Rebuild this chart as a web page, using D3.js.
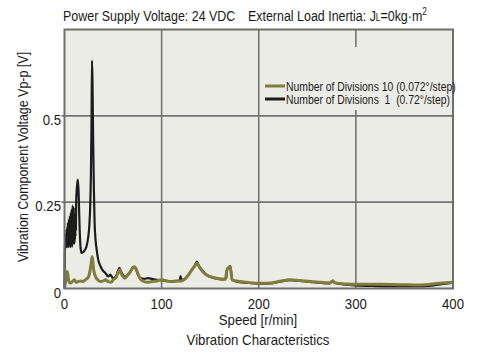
<!DOCTYPE html>
<html>
<head>
<meta charset="utf-8">
<script src="https://cdn.jsdelivr.net/npm/d3@7"></script>
<style>
  body { margin: 0; background: #fff; }
  text { font-family: "Liberation Sans", Arial, sans-serif; fill: #1a1a1a; }
</style>
</head>
<body>
<div id="chart"></div>
<script>
// speed [r/min] and voltage [V]
var speed1 = [0,0.25,0.5,0.75,1,1.25,1.5,1.75,2,2.25,2.5,2.75,3,3.25,3.5,3.75,4,4.25,4.5,4.75,5,5.25,5.5,5.75,6,6.25,6.5,6.75,7,7.25,7.5,7.75,8,8.25,8.5,8.75,9,9.25,9.5,9.75,10,10.25,10.5,10.75,11,11.25,11.5,11.75,12,13,13.8,14.5,15.5,16.5,17.5,19,20.5,22.5,24.5,25.5,26.5,27.2,27.8,28.3,28.8,29.5,30.3,31,32,33,35,37,39,42,45,47,50,53,55,56.5,58,60,62,65,68,71,73,75,78,82,86,90,95,100,105,110,115,118.5,119.5,120.5,125,130,134,136.4,138,142,146,152,158,164,166.5,167.5,169,170.7,171.5,172.5,180,190,200,212,222,232,242,253,265,273,275,276.5,278,290,300,320,340,366,380,390,400];
var volt1 = [0,0.1,0.14,0.12,0.15,0.12,0.16,0.12,0.17,0.13,0.16,0.12,0.18,0.13,0.19,0.12,0.18,0.14,0.2,0.12,0.19,0.13,0.21,0.14,0.2,0.12,0.22,0.13,0.2,0.14,0.23,0.12,0.21,0.13,0.24,0.14,0.22,0.13,0.235,0.15,0.22,0.13,0.2,0.14,0.21,0.15,0.22,0.17,0.25,0.3,0.315,0.28,0.18,0.12,0.103,0.105,0.11,0.12,0.15,0.18,0.24,0.33,0.47,0.66,0.6,0.43,0.28,0.19,0.14,0.115,0.08,0.065,0.054,0.045,0.035,0.04,0.03,0.035,0.05,0.06,0.05,0.04,0.034,0.04,0.05,0.063,0.06,0.045,0.03,0.028,0.03,0.028,0.025,0.024,0.022,0.02,0.021,0.023,0.036,0.024,0.03,0.05,0.066,0.078,0.068,0.052,0.04,0.032,0.028,0.026,0.03,0.058,0.06,0.065,0.05,0.025,0.018,0.016,0.014,0.015,0.02,0.024,0.022,0.019,0.016,0.015,0.02,0.023,0.016,0.011,0.009,0.007,0.006,0.006,0.009,0.013,0.017];

var speed10 = [0,1,2,2.8,3.5,4.5,6,8,10,12,14,16.5,19,21,23,25,26.5,27.5,28.5,29.3,30,31,32,34,37,40,42,45,48,50,53,55,57,58.5,60,62,64,67,70,72,74,76,78,82,86,90,95,100,105,110,115,120,125,130,134,136.4,138,142,146,153,160,165.6,167,168,170.7,171.5,172.5,181,190,200,212,222,232,242,253,263,273,276,278,290,300,325,345,366,386,400];
var volt10 = [0,0.02,0.04,0.049,0.04,0.02,0.016,0.02,0.025,0.018,0.02,0.022,0.02,0.024,0.028,0.036,0.055,0.075,0.092,0.075,0.055,0.042,0.034,0.026,0.02,0.022,0.025,0.02,0.018,0.025,0.032,0.045,0.054,0.042,0.035,0.03,0.035,0.045,0.058,0.063,0.055,0.04,0.028,0.02,0.018,0.02,0.022,0.025,0.022,0.02,0.022,0.022,0.03,0.049,0.065,0.073,0.066,0.05,0.04,0.032,0.028,0.027,0.05,0.058,0.063,0.045,0.025,0.02,0.017,0.015,0.016,0.021,0.025,0.023,0.02,0.018,0.016,0.022,0.017,0.013,0.012,0.012,0.011,0.01,0.015,0.018];

var xTicks = [0, 100, 200, 300, 400];
var yTicks = [0, 0.25, 0.5];
var seriesNames = ["Number of Divisions 10 (0.072\u00b0/step)", "Number of Divisions  1  (0.72\u00b0/step)"];
var seriesColors = ["#7f7c3c", "#1c1c1c"];

var width = 504, height = 352;
var plotL = 64.5, plotR = 453, plotT = 29.5, plotB = 288.5;

var svg = d3.select("#chart").append("svg")
  .attr("width", width)
  .attr("height", height);

var x = d3.scaleLinear().domain([0, 400]).range([plotL, plotR]);
var y = d3.scaleLinear().domain([0, 0.75]).range([plotB, plotT]);

// the original font is a condensed sans, squeeze the text to match
function condense(sel, k) {
  sel.each(function() {
    var w = this.getComputedTextLength();
    d3.select(this)
      .attr("textLength", w * k)
      .attr("lengthAdjust", "spacingAndGlyphs");
  });
}

// plot background
svg.append("rect")
  .attr("x", plotL).attr("y", plotT)
  .attr("width", plotR - plotL).attr("height", plotB - plotT)
  .attr("fill", "#ececE6");

// grid
svg.append("g").selectAll("line")
  .data([100, 200, 300]).enter().append("line")
  .attr("x1", d => x(d)).attr("x2", d => x(d))
  .attr("y1", plotT).attr("y2", plotB)
  .attr("stroke", "#737373").attr("stroke-width", 1.6);
svg.append("g").selectAll("line")
  .data([0.25, 0.5]).enter().append("line")
  .attr("x1", plotL - 3).attr("x2", plotR)
  .attr("y1", d => y(d)).attr("y2", d => y(d))
  .attr("stroke", "#737373").attr("stroke-width", 1.6);

// legend box hides the grid behind it
svg.append("rect")
  .attr("x", 262).attr("y", 47)
  .attr("width", plotR - 262).attr("height", 63)
  .attr("fill", "#ececE6");

// curves
var line = d3.line()
  .x(d => x(d[0]))
  .y(d => y(d[1]))
  .curve(d3.curveMonotoneX);

var data1 = speed1.map((s, i) => [s, volt1[i]]);
var data10 = speed10.map((s, i) => [s, volt10[i]]);

svg.append("path")
  .datum(data1)
  .attr("d", line)
  .attr("fill", "none")
  .attr("stroke", seriesColors[1])
  .attr("stroke-width", 2.2)
  .attr("stroke-linejoin", "round");

svg.append("path")
  .datum(data10)
  .attr("d", line)
  .attr("fill", "none")
  .attr("stroke", seriesColors[0])
  .attr("stroke-width", 3)
  .attr("stroke-linejoin", "round");

// frame
svg.append("rect")
  .attr("x", plotL).attr("y", plotT)
  .attr("width", plotR - plotL).attr("height", plotB - plotT)
  .attr("fill", "none")
  .attr("stroke", "#6e6e6e").attr("stroke-width", 2);

// x axis labels
svg.append("g").selectAll("text")
  .data(xTicks).enter().append("text")
  .attr("x", d => x(d)).attr("y", 309)
  .attr("text-anchor", "middle")
  .attr("font-size", 15)
  .text(d => d)
  .call(condense, 0.88);

// y axis labels
svg.append("g").selectAll("text")
  .data(yTicks).enter().append("text")
  .attr("x", 61).attr("y", d => y(d) + 9)
  .attr("text-anchor", "end")
  .attr("font-size", 15)
  .text(d => d)
  .call(condense, 0.88);

// axis titles
svg.append("text")
  .attr("x", 258).attr("y", 325)
  .attr("text-anchor", "middle")
  .attr("font-size", 15)
  .text("Speed [r/min]")
  .call(condense, 0.88);

svg.append("text")
  .attr("x", 258).attr("y", 345)
  .attr("text-anchor", "middle")
  .attr("font-size", 15)
  .text("Vibration Characteristics")
  .call(condense, 0.88);

svg.append("text")
  .attr("transform", "translate(28,157) rotate(-90)")
  .attr("text-anchor", "middle")
  .attr("font-size", 15)
  .text("Vibration Component Voltage Vp-p [V]")
  .call(condense, 0.83);

// title
svg.append("text")
  .attr("x", 63).attr("y", 21)
  .attr("font-size", 15)
  .text("Power Supply Voltage: 24 VDC")
  .call(condense, 0.83);
var t2 = svg.append("text")
  .attr("x", 248).attr("y", 21)
  .attr("font-size", 15)
  .attr("transform", "translate(248,0) scale(0.83,1) translate(-248,0)");
t2.append("tspan").text("External Load Inertia: J");
t2.append("tspan").attr("font-size", 10).text("L");
t2.append("tspan").text("=0kg\u00b7m");
t2.append("tspan").attr("font-size", 10).attr("dy", -6).text("2");

// legend
var legend = svg.append("g").selectAll("g")
  .data(seriesNames).enter().append("g")
  .attr("transform", (d, i) => "translate(265," + (86 + i * 13) + ")");
legend.append("line")
  .attr("x1", 0).attr("x2", 20)
  .attr("stroke", (d, i) => seriesColors[i])
  .attr("stroke-width", 3);
legend.append("text")
  .attr("x", 21).attr("y", 4.5)
  .attr("font-size", 12.5)
  .style("white-space", "pre")
  .text(d => d)
  .call(condense, 0.83);
</script>
</body>
</html>
